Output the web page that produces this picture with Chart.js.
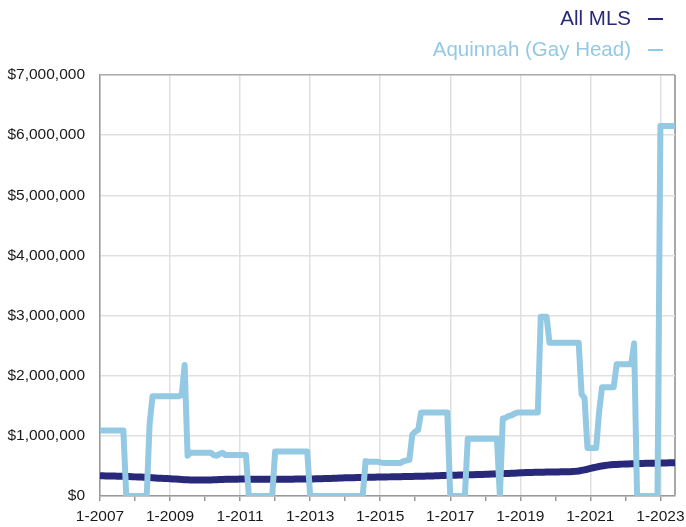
<!DOCTYPE html>
<html><head><meta charset="utf-8">
<script src="https://cdn.jsdelivr.net/npm/chart.js@4.4.0/dist/chart.umd.min.js"></script>
<style>
html,body{margin:0;padding:0;background:#fff;}
#wrap{position:relative;width:686px;height:527px;}
.item{position:absolute;right:23px;font-family:"Liberation Sans",Arial,Helvetica,sans-serif;font-size:20.5px;line-height:20.5px;white-space:nowrap;}
.mark{display:inline-block;width:15px;height:2px;margin-left:17px;vertical-align:middle;position:relative;top:-1px;}
</style></head><body>
<div id="wrap">
<canvas id="c" width="686" height="527"></canvas>
<div class="item" id="lg1" style="top:8px;"></div>
<div class="item" id="lg2" style="top:39px;"></div>
</div>
<script>
// ---- data ----
const years = [2007,2008,2009,2010,2011,2012,2013,2014,2015,2016,2017,2018,2019,2020,2021,2022,2023];
const monthsIn2023 = 6;
const seriesNames = ["All MLS", "Aquinnah (Gay Head)"];
const seriesColors = ["#29297b", "#94c9e4"];

// All MLS monthly values (dollars), Jan-2007 .. Jun-2023
const allMLS = [
 336000,335000,334000,333000,332000,331000,330000,329000,327000,325000,323000,321000,
 318000,316000,314000,312000,309000,306000,303000,300000,297000,294000,291000,289000,
 287000,284000,281000,278000,275000,272000,270000,268000,266000,265000,264000,264000,
 265000,266000,268000,270000,272000,274000,276000,277000,278000,279000,280000,280000,
 281000,281000,281000,280000,280000,280000,279000,279000,279000,279000,279000,279000,
 279000,279000,279000,279000,279000,280000,280000,281000,281000,282000,282000,283000,
 283000,284000,285000,286000,287000,289000,291000,293000,295000,297000,299000,301000,
 302000,303000,304000,305000,306000,308000,309000,310000,311000,312000,313000,314000,
 315000,316000,317000,318000,319000,320000,321000,322000,323000,324000,325000,326000,
 327000,328000,329000,330000,331000,332000,333000,335000,337000,339000,341000,343000,
 345000,346000,347000,348000,349000,350000,352000,353000,354000,356000,357000,358000,
 360000,362000,364000,366000,368000,370000,372000,374000,376000,378000,380000,382000,
 385000,387000,389000,391000,392000,393000,394000,395000,396000,397000,398000,399000,
 400000,401000,402000,403000,404000,405000,407000,410000,415000,425000,435000,445000,
 460000,470000,480000,490000,500000,507000,513000,518000,522000,525000,528000,530000,
 532000,534000,536000,538000,540000,541000,542000,543000,544000,545000,546000,547000,
 548000,549000,550000,551000,552000,553000
];

// Aquinnah (Gay Head) monthly values (dollars), Jan-2007 .. Jun-2023
const aquinnah = [
 1090000,1090000,1090000,1090000,1090000,1090000,1090000,1090000,1090000,0,0,0,
 0,0,0,0,0,1200000,1660000,1660000,1660000,1660000,1660000,1660000,
 1660000,1660000,1660000,1660000,1680000,2180000,670000,720000,720000,720000,720000,720000,
 720000,720000,720000,680000,670000,700000,720000,680000,680000,680000,680000,680000,
 680000,680000,680000,0,0,0,0,0,0,0,0,0,
 740000,740000,740000,740000,740000,740000,740000,740000,740000,740000,740000,740000,
 0,0,0,0,0,0,0,0,0,0,0,0,
 0,0,0,0,0,0,0,580000,570000,570000,570000,570000,
 560000,550000,550000,550000,550000,550000,550000,550000,580000,590000,600000,1020000,
 1070000,1100000,1390000,1390000,1390000,1390000,1390000,1390000,1390000,1390000,1390000,1390000,
 0,0,0,0,0,0,950000,950000,950000,950000,950000,950000,
 950000,950000,950000,950000,950000,0,1290000,1300000,1330000,1340000,1370000,1390000,
 1390000,1390000,1390000,1390000,1390000,1390000,1390000,2980000,2980000,2980000,2550000,2550000,
 2550000,2550000,2550000,2550000,2550000,2550000,2550000,2550000,2550000,1690000,1630000,800000,
 800000,800000,800000,1400000,1810000,1810000,1810000,1810000,1810000,2190000,2190000,2190000,
 2190000,2190000,2190000,2540000,0,0,0,0,0,0,0,0,
 6150000,6150000,6150000,6150000,6150000,6150000
];

const yTicks = [0,1000000,2000000,3000000,4000000,5000000,6000000,7000000];

// ---- build labels "M-YYYY" ----
const labels = [];
years.forEach(y => {
  const n = (y === 2023) ? monthsIn2023 : 12;
  for (let m = 1; m <= n; m++) labels.push(m + "-" + y);
});

function fmtMoney(v) {
  return "$" + String(Math.round(v)).replace(/\B(?=(\d{3})+(?!\d))/g, ",");
}

// ---- legend (HTML text) ----
["lg1","lg2"].forEach((id, k) => {
  const el = document.getElementById(id);
  el.style.color = seriesColors[k];
  const t = document.createElement("span");
  t.textContent = seriesNames[k];
  const mk = document.createElement("span");
  mk.className = "mark";
  mk.style.background = seriesColors[k];
  el.appendChild(t); el.appendChild(mk);
});

const FONT = '"Liberation Sans", Arial, Helvetica, sans-serif';
const lastIdx = labels.length - 1;
function isJan(i){ return labels[i] && labels[i].startsWith("1-"); }
function isMajor(i){ if(!isJan(i)) return false; const y = +labels[i].split("-")[1]; return (y - years[0]) % 2 === 0; }

new Chart(document.getElementById("c"), {
  type: "line",
  data: {
    labels: labels,
    datasets: [
      { label: seriesNames[0], data: allMLS, borderColor: seriesColors[0], backgroundColor: seriesColors[0],
        borderWidth: 7, pointRadius: 0, tension: 0, borderJoinStyle: "round", borderCapStyle: "butt", order: 1 },
      { label: seriesNames[1], data: aquinnah, borderColor: seriesColors[1], backgroundColor: seriesColors[1],
        borderWidth: 6, pointRadius: 0, tension: 0, borderJoinStyle: "round", borderCapStyle: "butt", order: 0 }
    ]
  },
  options: {
    responsive: false,
    animation: false,
    events: [],
    layout: { padding: { top: 75, right: 11, bottom: 0, left: 0 } },
    plugins: { legend: { display: false }, tooltip: { enabled: false } },
    scales: {
      x: {
        type: "category",
        offset: false,
        afterFit: s => { s.height = 31; },
        border: { color: "#999", width: 1.5 },
        grid: {
          drawTicks: true,
          tickLength: 5,
          lineWidth: ctx => (ctx.index === lastIdx ? 2 : 1.5),
          color: ctx => (ctx.index === lastIdx ? "#a8a8a8" : (isMajor(ctx.index) ? "#e0e0e0" : "rgba(0,0,0,0)")),
          tickColor: ctx => (isJan(ctx.index) ? "#999" : "rgba(0,0,0,0)")
        },
        ticks: {
          autoSkip: false, maxRotation: 0, minRotation: 0, padding: 6,
          color: "#1a1a1a", font: { family: FONT, size: 15.5 },
          callback: function(value, index) { return isMajor(index) ? labels[index] : ""; }
        }
      },
      y: {
        min: yTicks[0], max: yTicks[yTicks.length - 1],
        afterFit: s => { s.width = 100; },
        afterBuildTicks: s => { s.ticks = yTicks.map(v => ({ value: v })); },
        border: { color: "#999", width: 1.5 },
        grid: {
          drawTicks: false,
          lineWidth: 1.5,
          color: ctx => (ctx.tick && ctx.tick.value === yTicks[yTicks.length - 1] ? "#a8a8a8" : "#e0e0e0")
        },
        ticks: {
          padding: 15, color: "#1a1a1a", font: { family: FONT, size: 15.5 },
          callback: v => fmtMoney(v)
        }
      }
    }
  }
});
</script>
</body></html>
